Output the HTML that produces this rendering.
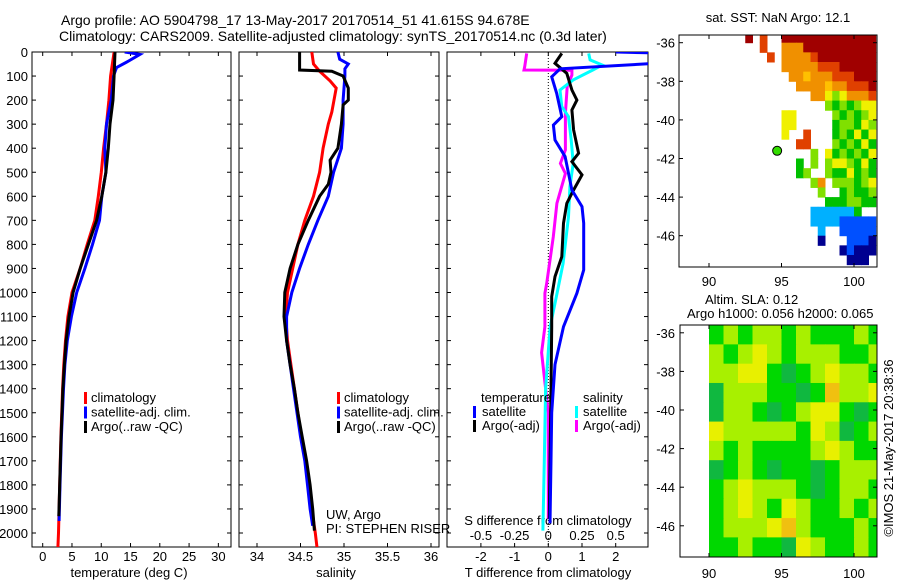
<!DOCTYPE html>
<html><head><meta charset="utf-8"><style>
body{margin:0;background:#fff}
svg text{font-family:"Liberation Sans",sans-serif;fill:#000}
</style></head><body>
<svg id="s" width="900" height="580" viewBox="0 0 900 580" xmlns="http://www.w3.org/2000/svg">
<defs>
<clipPath id="c1"><rect x="32" y="52" width="199" height="495"/></clipPath>
<clipPath id="c2"><rect x="239" y="52" width="200" height="495"/></clipPath>
<clipPath id="c3"><rect x="447" y="52" width="201" height="495"/></clipPath>
<clipPath id="c4"><rect x="679" y="35" width="198" height="232"/></clipPath>
<clipPath id="c5"><rect x="680" y="325" width="197" height="232"/></clipPath>
</defs>
<text x="61" y="25" font-size="14">Argo profile: AO 5904798_17 13-May-2017 20170514_51 41.615S 94.678E</text>
<text x="59" y="41" font-size="14">Climatology: CARS2009. Satellite-adjusted climatology: synTS_20170514.nc (0.3d later)</text>
<g id="g"></g>
</svg>
<script>
// ---- data ----
const depthTicks=[0,100,200,300,400,500,600,700,800,900,1000,1100,1200,1300,1400,1500,1600,1700,1800,1900,2000];
const tempTicks=[0,5,10,15,20,25,30];
const salTicks=[34,34.5,35,35.5,36];
const tdiffTicks=[-2,-1,0,1,2];
const sdiffTicks=[-0.5,-0.25,0,0.25,0.5];
const sdiffTickLabels=["-0.5","-0.25","0","0.25","0.5"];
const tClimD=[0,100,200,300,400,500,600,700,800,900,1000,1100,1200,1300,1400,1600,1800,2000,2060];
const tClimV=[12.2,11.6,11.3,10.9,10.4,10.0,9.5,8.9,7.6,6.4,5.0,4.3,3.9,3.6,3.4,3.1,2.9,2.7,2.6];
const tArgoD=[0,100,200,300,400,500,600,700,800,900,1000,1100,1200,1300,1400,1600,1800,1930];
const tArgoV=[12.35,12.2,12.0,11.5,11.2,10.8,10.1,9.2,7.8,6.4,5.2,4.5,4.0,3.7,3.45,3.15,2.9,2.75];
const tSatD=[0,10,40,65,100,200,300,400,500,600,700,800,900,1000,1100,1200,1300,1400,1600,1800,1950];
const tSatV=[14,16.6,14.5,12.6,12.1,11.7,10.9,10.6,10.8,10.1,9.7,8.5,7.2,5.8,4.9,4.2,3.8,3.55,3.2,2.95,2.8];
const sClimD=[0,50,80,120,150,250,300,400,500,600,700,800,900,1000,1100,1200,1300,1400,1500,1600,1700,1800,1900,2000,2060];
const sClimV=[34.63,34.65,34.72,34.84,34.91,34.86,34.82,34.76,34.72,34.65,34.55,34.47,34.41,34.35,34.33,34.35,34.39,34.43,34.47,34.51,34.56,34.59,34.63,34.67,34.69];
const sArgoD=[0,75,80,100,150,200,220,300,400,450,500,550,600,700,800,900,1000,1100,1200,1300,1400,1500,1600,1700,1800,1900,1990];
const sArgoV=[34.49,34.49,34.86,34.99,35.05,35.05,34.99,34.97,34.93,34.84,34.85,34.82,34.72,34.59,34.47,34.38,34.32,34.31,34.34,34.38,34.43,34.47,34.52,34.57,34.61,34.64,34.66];
const sSatD=[0,30,50,70,100,200,300,400,500,600,700,800,900,1000,1100,1200,1300,1400,1500,1600,1700,1800,1900,1970];
const sSatV=[34.93,34.95,35.05,35.01,35.01,34.99,34.99,34.97,34.88,34.82,34.70,34.59,34.49,34.40,34.34,34.34,34.38,34.42,34.46,34.50,34.55,34.58,34.61,34.64];
const dtSatD=[0,5,45,47,70,103,172,269,304,366,435,574,643,712,906,1003,1142,1300,1500,1700,1960];
const dtSatV=[2.0,3.5,3.5,3.2,0.35,0.1,0.25,0.4,0.15,0.2,0.5,0.7,1.0,1.05,1.05,0.85,0.45,0.2,0.1,0.08,0.05];
const dtArgoD=[6,47,89,158,200,241,324,421,456,511,574,629,712,851,934,1017,1142,1400,1700,1940];
const dtArgoV=[0.4,0.2,0.55,0.7,0.85,0.7,0.75,0.9,0.7,1.0,0.75,0.55,0.45,0.4,0.2,0.1,0.1,0.08,0.05,0.03];
const dsSatD=[6,33,54,75,116,158,227,269,366,463,560,685,879,1045,1142,1400,1700,1990];
const dsSatV=[0.30,0.31,0.40,0.33,0.185,0.087,0.1,0.15,0.17,0.185,0.16,0.15,0.11,0.05,0.013,-0.02,-0.03,-0.04];
const dsArgoD=[6,61,75,76,96,144,255,407,463,505,629,768,962,1003,1142,1250,1500,1940];
const dsArgoV=[-0.16,-0.175,-0.18,0.175,0.175,0.14,0.127,0.127,0.09,0.127,0.064,0.037,-0.012,-0.025,-0.025,-0.05,0.0,0.0];
const mapLonTicks=[90,95,100];
const mapLatTicks=[-36,-38,-40,-42,-44,-46];
const sstRows=[
".9.8..9999999999999",
"...8..7779999999999",
"....8.7777899999999",
"......7777788899999",
".......776777888999",
"........77776778889",
"..........775457778",
"............4343455",
"......55.....434345",
"......55.....344354",
"......5..8...343535",
"........88...434353",
"..........4.5343435",
"........3.4.4554353",
"........34..4335343",
"..........47.444345",
"...........4..34334",
"............3334433",
"..........2222223..",
"..........222211111",
"...........2..11111",
"...........0...1110",
"..............01000",
"...............000."];
const slaRows=[
[1,2,1,2,2,1,2,1,1,1,2,1],[2,1,2,3,2,1,2,2,2,1,1,2],[2,2,3,3,1,0,1,2,3,2,2,1],
[0,2,2,2,1,1,0,1,4,2,2,3],[0,2,2,1,0,1,2,3,3,1,0,1],[3,2,2,2,2,2,1,3,2,0,1,2],
[2,1,2,1,1,1,1,2,3,2,1,1],[0,1,2,1,0,1,1,0,1,2,2,2],[1,2,3,2,2,2,1,0,1,2,2,1],
[1,2,3,2,1,3,2,1,1,2,1,2],[1,2,2,2,3,4,2,1,1,1,2,1],[1,1,2,1,1,0,3,2,1,1,2,1]];
const argoLon=94.7, argoLat=-41.6;

// ---- helpers ----
const NS="http://www.w3.org/2000/svg";
const G=document.getElementById('g');
function mk(t,a,p){const e=document.createElementNS(NS,t);for(const k in a)e.setAttribute(k,a[k]);(p||G).appendChild(e);return e;}
const yD=d=>52+d*0.2405;
const xT=v=>42.7+v*5.855;
const xS=v=>257+(v-34)*87;
const xDT=v=>548.3+v*33.7;
const xDS=v=>548.3+v*134.8;
const mxLon=l=>709+(l-90)*14.5;
const myLat=l=>42.7+(-36-l)*19.3;
const byLat=l=>410+(-40-l)*19.3;
function line(D,V,fx,color,clip,name){
  const pts=D.map((d,i)=>fx(V[i]).toFixed(1)+','+yD(d).toFixed(1)).join(' ');
  const e=mk('polyline',{points:pts,fill:'none',stroke:color,'stroke-width':3,'clip-path':'url(#'+clip+')'});
  
  
}
function txt(x,y,s,size,anchor,name){
  const e=mk('text',{x:x,y:y,'font-size':size,'text-anchor':anchor||'start'});e.textContent=s;
  
  
  return e;
}
function box(x0,x1,y0,y1,name){
  const e=mk('rect',{x:x0,y:y0,width:x1-x0,height:y1-y0,fill:'none',stroke:'#000','stroke-width':1});
  
  
}
function vtick(x,y0,y1){mk('line',{x1:x,x2:x,y1:y0,y2:y0+4,stroke:'#000'});mk('line',{x1:x,x2:x,y1:y1,y2:y1-4,stroke:'#000'});}
function htick(y,x0,x1){mk('line',{x1:x0,x2:x0+4,y1:y,y2:y,stroke:'#000'});mk('line',{x1:x1,x2:x1-4,y1:y,y2:y,stroke:'#000'});}
function legBar(x,y,color,name){const e=mk('rect',{x:x,y:y-10,width:3,height:12,fill:color});
  
  }

// ---- panel 1 ----
box(32,231,52,547,'temperature-axes');
depthTicks.forEach(d=>{htick(yD(d),32,231);htick(yD(d),239,439);htick(yD(d),447,648);txt(28,yD(d)+5,String(d),13,'end','depth-tick-label');});
tempTicks.forEach(v=>{vtick(xT(v),52,547);txt(xT(v),561,String(v),13,'middle','temp-tick-label');});
txt(129,577,'temperature (deg C)',13,'middle','temperature-axis-title');
line(tClimD,tClimV,xT,'#ff0000','c1','temp-climatology-line');
line(tSatD,tSatV,xT,'#0000ff','c1','temp-satellite-line');
line(tArgoD,tArgoV,xT,'#000000','c1','temp-argo-line');
[['climatology','#ff0000'],['satellite-adj. clim.','#0000ff'],['Argo(..raw -QC)','#000000']].forEach((l,i)=>{legBar(84,402+i*14.5,l[1],'temp-legend-swatch');txt(91,402+i*14.5,l[0],13,'start','temp-legend-entry');});

// ---- panel 2 ----
box(239,439,52,547,'salinity-axes');
salTicks.forEach(v=>{vtick(xS(v),52,547);txt(xS(v),561,String(v),13,'middle','sal-tick-label');});
txt(336,577,'salinity',13,'middle','salinity-axis-title');
line(sClimD,sClimV,xS,'#ff0000','c2','sal-climatology-line');
line(sSatD,sSatV,xS,'#0000ff','c2','sal-satellite-line');
line(sArgoD,sArgoV,xS,'#000000','c2','sal-argo-line');
[['climatology','#ff0000'],['satellite-adj. clim.','#0000ff'],['Argo(..raw -QC)','#000000']].forEach((l,i)=>{legBar(337,402+i*14.5,l[1],'sal-legend-swatch');txt(344,402+i*14.5,l[0],13,'start','sal-legend-entry');});
txt(326,519,'UW, Argo',13,'start','institution-label');
txt(326,533,'PI: STEPHEN RISER',13,'start','pi-label');

// ---- panel 3 ----
box(447,648,52,547,'difference-axes');
const z=mk('line',{x1:xDT(0),x2:xDT(0),y1:52,y2:547,stroke:'#000','stroke-dasharray':'1,2'});


tdiffTicks.forEach(v=>{mk('line',{x1:xDT(v),x2:xDT(v),y1:547,y2:543,stroke:'#000'});txt(xDT(v),561,String(v),13,'middle','tdiff-tick-label');});
sdiffTicks.forEach((v,i)=>{mk('line',{x1:xDS(v),x2:xDS(v),y1:52,y2:56,stroke:'#000'});txt(xDS(v),540,sdiffTickLabels[i],13,'middle','sdiff-tick-label');});
txt(548,525,'S difference from climatology',13,'middle','sdiff-axis-title');
txt(548,577,'T difference from climatology',13,'middle','tdiff-axis-title');
line(dsArgoD,dsArgoV,xDS,'#ff00ff','c3','sdiff-argo-line');
line(dsSatD,dsSatV,xDS,'#00ffff','c3','sdiff-satellite-line');
line(dtArgoD,dtArgoV,xDT,'#000000','c3','tdiff-argo-line');
line(dtSatD,dtSatV,xDT,'#0000ff','c3','tdiff-satellite-line');
txt(481,402,'temperature',13,'start','tdiff-legend-heading');
legBar(473,416,'#0000ff','tdiff-legend-swatch');txt(482,416,'satellite',13,'start','tdiff-legend-entry');
legBar(473,430,'#000000','tdiff-legend-swatch');txt(482,430,'Argo(-adj)',13,'start','tdiff-legend-entry');
txt(583,402,'salinity',13,'start','sdiff-legend-heading');
legBar(575,416,'#00ffff','sdiff-legend-swatch');txt(583,416,'satellite',13,'start','sdiff-legend-entry');
legBar(575,430,'#ff00ff','sdiff-legend-swatch');txt(583,430,'Argo(-adj)',13,'start','sdiff-legend-entry');

// ---- SST map ----
const jet=['#000090','#0050ff','#00b0ff','#00c000','#80e000','#f0f000','#ffc000','#f09000','#e04000','#a00000'];
const gS=mk('g',{'clip-path':'url(#c4)'});


sstRows.forEach((row,r)=>{[...row].forEach((ch,c)=>{if(ch==='.')return;
  const lon=92+c*0.5, lat=-35.5-r*0.5;
  const x0=mxLon(lon),x1=mxLon(lon+0.5),y0=myLat(lat),y1=myLat(lat-0.5);
  mk('rect',{x:x0,y:y0,width:x1-x0+0.5,height:y1-y0+0.5,fill:jet[+ch]},gS);});});
box(679,877,35,267,'sst-map-axes');
mapLonTicks.forEach(v=>{vtick(mxLon(v),35,267);txt(mxLon(v),286,String(v),13,'middle','sst-lon-tick-label');});
mapLatTicks.forEach(v=>{htick(myLat(v),679,877);txt(675,myLat(v)+5,String(v),13,'end','sst-lat-tick-label');});
const dot=mk('circle',{cx:mxLon(argoLon),cy:myLat(argoLat),r:4.5,fill:'#33dd00',stroke:'#000','stroke-width':1});


txt(778,22,'sat. SST: NaN Argo: 12.1',13,'middle','sst-map-title');

// ---- SLA map ----
const slaC=['#10b840','#00d800','#a8f000','#e8f000','#f0c010'];
const gA=mk('g',{'clip-path':'url(#c5)'});


slaRows.forEach((row,r)=>row.forEach((v,c)=>{
  const x0=mxLon(90+c),x1=mxLon(91+c),y0=byLat(-35.6-r),y1=byLat(-36.6-r);
  mk('rect',{x:x0,y:y0,width:x1-x0+0.5,height:y1-y0+0.5,fill:slaC[v]},gA);}));
box(680,877,325,557,'sla-map-axes');
mapLonTicks.forEach(v=>{vtick(mxLon(v),325,557);txt(mxLon(v),578,String(v),13,'middle','sla-lon-tick-label');});
mapLatTicks.forEach(v=>{htick(byLat(v),680,877);txt(675,byLat(v)+5,String(v),13,'end','sla-lat-tick-label');});
txt(705,304,'Altim. SLA: 0.12',13,'start','sla-map-title');
txt(687,318,'Argo h1000: 0.056 h2000: 0.065',13,'start','argo-height-label');
const cr=txt(0,0,'©IMOS 21-May-2017 20:38:36',13,'middle','copyright-label');
cr.setAttribute('transform','translate(893,448) rotate(-90)');
</script>
</body></html>
